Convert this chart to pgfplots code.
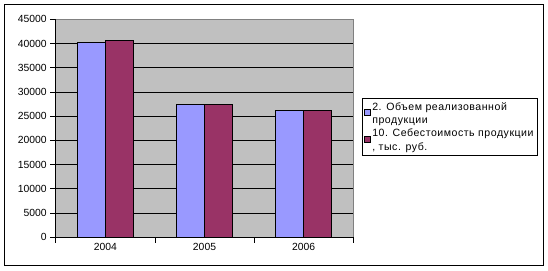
\documentclass[border=0pt]{standalone}
\usepackage{pgfplots}
\pgfplotsset{compat=1.18}
\usepackage{fontspec}
\setmainfont{Liberation Sans}
\newfontfamily\legfont[LetterSpace=5]{Liberation Sans}
\definecolor{cblue}{RGB}{153,153,255}
\definecolor{cred}{RGB}{153,51,102}
\definecolor{cbg}{RGB}{192,192,192}
\definecolor{cborder}{RGB}{128,128,128}
\begin{document}
\begin{tikzpicture}[x=1bp,y=1bp]
\path (0,0) rectangle (548,270);
\draw[line width=1.4bp] (4.6,4.6) rectangle (543.6,265.6);
\begin{axis}[
  at={(55.7bp,32.7bp)}, anchor=south west,
  scale only axis, width=297.6bp, height=218bp,
  ybar=0pt, bar width=28bp,
  xmin=-0.5, xmax=2.5, ymin=0, ymax=45000,
  ytick={0,5000,...,45000},
  scaled y ticks=false,
  yticklabel style={/pgf/number format/.cd, 1000 sep={}, assume math mode=true},
  xtick={-0.5,0.5,1.5,2.5}, xticklabels={},
  extra x ticks={0,1,2}, extra x tick labels={2004,2005,2006},
  extra x tick style={major tick length=0pt, tick style={draw=none}, xticklabel style={yshift=-2bp}},
  tick align=outside, major tick length=5.5bp,
  tick style={black, line width=0.8bp},
  axis x line*=bottom, axis y line*=left,
  axis line style={black, line width=0.8bp, -},
  axis background/.style={fill=cbg},
  ymajorgrids, grid style={black, line width=0.8bp},
  ticklabel style={font=\fontsize{10.4}{12}\selectfont},
  legend style={at={(1.029,0.639)}, anchor=north west, draw=black, line width=0.8bp,
    font=\legfont\fontsize{10.6}{13.5}\selectfont, cells={align=left, anchor=west},
    inner xsep=1.5bp, inner ysep=2bp, row sep=0pt},
  legend cell align=left,
  legend image code/.code={\draw[#1, draw=black, line width=0.5bp] (3bp,-1.5bp) rectangle (9bp,4.5bp);},
  after end axis/.code={\draw[cborder, line width=0.9bp] (rel axis cs:0,1) -- (rel axis cs:1,1) -- (rel axis cs:1,0);},
]
\addplot[fill=cblue, draw=black, line width=0.8bp] coordinates {(0,40300) (1,27400) (2,26100)};
\addplot[fill=cred, draw=black, line width=0.8bp] coordinates {(0,40600) (1,27400) (2,26100)};
\legend{{2. Объем реализованной\\продукции}, {10. Себестоимость продукции\\, тыс. руб.}}
\end{axis}
\end{tikzpicture}
\end{document}
